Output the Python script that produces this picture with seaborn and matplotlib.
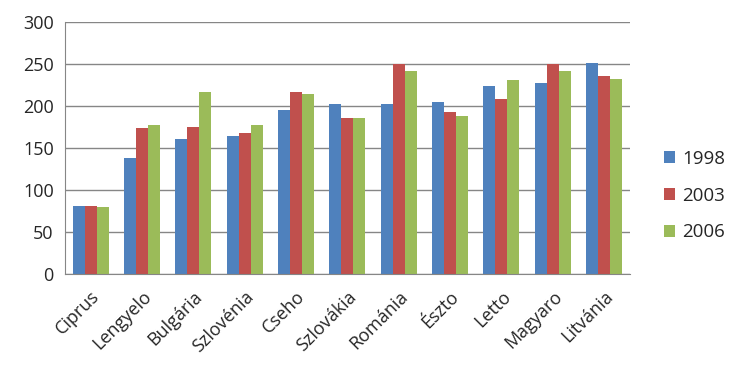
import matplotlib.pyplot as plt
import pandas as pd
import seaborn as sns

countries = ["Ciprus", "Lengyelo", "Bulgária", "Szlovénia", "Cseho", "Szlovákia",
             "Románia", "Észto", "Letto", "Magyaro", "Litvánia"]
years = ["1998", "2003", "2006"]
v1998 = [81, 138, 161, 164, 195, 202, 202, 204, 223, 227, 251]
v2003 = [81, 173, 175, 168, 217, 186, 250, 192, 208, 250, 235]
v2006 = [79, 177, 216, 177, 214, 185, 242, 188, 231, 242, 232]
colors = ["#4F81BD", "#C0504D", "#9BBB59"]

df = pd.DataFrame({"country": countries * 3,
                   "year": [y for y in years for _ in countries],
                   "value": v1998 + v2003 + v2006})

sns.set_style("white")
plt.rcParams["font.family"] = ["Open Sans", "DejaVu Sans"]

fig = plt.figure(figsize=(7.29, 3.76), dpi=100)
ax = fig.add_axes([0.089, 0.272, 0.775, 0.67])

sns.barplot(data=df, x="country", y="value", hue="year", palette=colors,
            width=0.7, saturation=1, ax=ax, errorbar=None, linewidth=0)

ax.set_ylim(0, 300)
ax.set_yticks(range(0, 301, 50))
ax.set_xlim(-0.5, len(countries) - 0.5)
ax.yaxis.grid(True, color="#868686", linewidth=1)
ax.set_axisbelow(True)
for side in ["top", "right"]:
    ax.spines[side].set_visible(False)
for side in ["left", "bottom"]:
    ax.spines[side].set_color("#868686")
ax.tick_params(axis="y", length=4, color="#868686", labelsize=13, pad=4)
ax.tick_params(axis="x", length=0, labelsize=13, pad=10)
plt.setp(ax.get_xticklabels(), rotation=45, ha="right", rotation_mode="anchor")
ax.set_xlabel("")
ax.set_ylabel("")

ax.legend(loc="center left", bbox_to_anchor=(1.03, 0.31), frameon=False,
          fontsize=13.5, handlelength=0.6, handleheight=0.6, labelspacing=1.0,
          handletextpad=0.4)

fig.savefig("out.png", dpi=100)
